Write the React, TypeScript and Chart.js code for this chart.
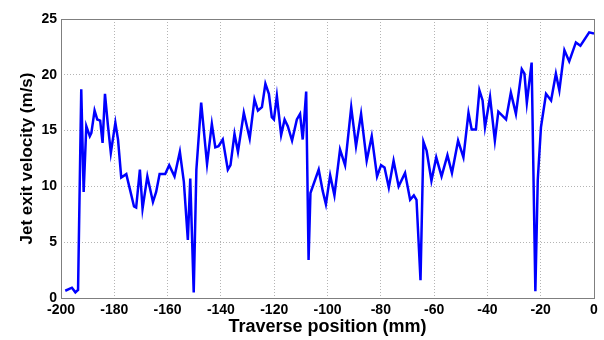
import React, { useEffect, useRef } from "react";
import { Chart, registerables } from "chart.js";

Chart.register(...registerables);

const positions: number[] = [
  -198.4, -195.9, -194.6, -193.6, -192.4, -191.5, -190.5, -189.2, -188.6, -187.4,
  -186.4, -185.3, -184.4, -183.5, -182.4, -181.3, -179.6, -178.6, -177.4, -175.5,
  -174.2, -172.6, -171.8, -170.4, -169.4, -167.6, -165.5, -164.3, -163.0, -160.9,
  -159.4, -157.4, -155.4, -153.9, -152.4, -151.5, -150.2, -149.2, -147.4, -145.2,
  -143.4, -142.1, -140.9, -139.3, -137.4, -136.4, -134.9, -133.6, -131.4, -129.2,
  -127.4, -126.1, -124.6, -123.3, -122.0, -120.9, -120.1, -119.0, -117.4, -116.1,
  -114.9, -113.3, -111.5, -110.3, -109.3, -108.0, -107.1, -106.4, -103.3, -101.8,
  -100.6, -99.0, -97.4, -95.3, -93.4, -91.1, -89.3, -87.4, -85.3, -83.4,
  -81.4, -79.9, -78.6, -77.0, -75.2, -73.3, -70.9, -69.0, -67.6, -66.6,
  -65.1, -64.0, -62.8, -61.0, -59.2, -57.2, -55.0, -53.3, -51.0, -49.0,
  -47.1, -45.9, -44.3, -43.0, -41.8, -40.9, -39.0, -37.2, -35.9, -33.0,
  -31.2, -29.3, -27.1, -26.1, -25.2, -23.4, -22.0, -21.1, -19.9, -18.0,
  -16.1, -14.3, -13.0, -11.1, -9.3, -6.8, -5.1, -1.8, 0,
];

const velocities: number[] = [
  0.65, 0.92, 0.51, 0.72, 18.7, 9.5, 15.4, 14.5, 14.8, 16.8,
  16.0, 15.9, 13.9, 18.3, 15.5, 13.0, 15.7, 14.2, 10.8, 11.1,
  9.8, 8.2, 8.1, 11.5, 8.0, 10.9, 8.6, 9.5, 11.1, 11.1,
  11.9, 10.9, 13.1, 10.4, 5.2, 10.7, 0.5, 11.5, 17.5, 12.0,
  15.6, 13.5, 13.6, 14.2, 11.5, 11.9, 14.7, 13.1, 16.6, 14.3,
  17.8, 16.8, 17.1, 19.2, 18.3, 16.2, 16.0, 18.1, 14.6, 16.0,
  15.4, 14.1, 16.0, 16.5, 14.2, 18.5, 3.4, 9.4, 11.5, 9.6,
  8.4, 11.0, 9.2, 13.3, 11.9, 17.1, 13.6, 16.5, 12.3, 14.5,
  10.9, 11.9, 11.7, 9.9, 12.3, 10.0, 11.2, 8.8, 9.2, 8.8,
  1.6, 14.0, 13.2, 10.5, 12.6, 10.9, 12.8, 11.2, 14.1, 12.6,
  16.6, 15.1, 15.1, 18.6, 17.7, 15.3, 18.0, 14.1, 16.7, 16.0,
  18.4, 16.5, 20.5, 20.1, 17.5, 21.1, 0.6, 10.6, 15.3, 18.3,
  17.7, 20.1, 18.6, 22.2, 21.2, 22.9, 22.6, 23.8, 23.7,
];

const xTicks: number[] = [-200, -180, -160, -140, -120, -100, -80, -60, -40, -20, 0];
const yTicks: number[] = [0, 5, 10, 15, 20, 25];

const FONT = "'Liberation Sans', Arial, sans-serif";

const boxPlugin = {
  id: "boxPlugin",
  afterDraw(chart: any) {
    const { ctx, chartArea } = chart;
    ctx.save();
    ctx.strokeStyle = "#7f7f7f";
    ctx.lineWidth = 1;
    ctx.strokeRect(
      Math.round(chartArea.left) + 0.5,
      Math.round(chartArea.top) + 0.5,
      Math.round(chartArea.right - chartArea.left),
      Math.round(chartArea.bottom - chartArea.top)
    );
    ctx.restore();
  },
};

export default function App() {
  const ref = useRef<HTMLCanvasElement | null>(null);

  useEffect(() => {
    if (!ref.current) return;
    const data = positions.map((x, i) => ({ x, y: velocities[i] }));
    const chart = new Chart(ref.current, {
      type: "line",
      data: {
        datasets: [
          {
            data,
            borderColor: "#0000ff",
            borderWidth: 2.5,
            pointRadius: 0,
            tension: 0,
            fill: false,
          },
        ],
      },
      options: {
        animation: false,
        responsive: false,
        maintainAspectRatio: false,
        layout: { padding: { top: 19, right: 10, left: 0, bottom: 0 } },
        plugins: { legend: { display: false }, tooltip: { enabled: false } },
        scales: {
          x: {
            type: "linear",
            min: -200,
            max: 0,
            afterBuildTicks: (scale: any) => {
              scale.ticks = xTicks.map((v) => ({ value: v }));
            },
            afterFit: (scale: any) => {
              scale.height = 42;
            },
            grid: {
              color: "#b4b4b4",
              lineWidth: 1,
              drawTicks: false,
            },
            border: { display: false, dash: [1, 2] },
            ticks: {
              color: "#000",
              font: { family: FONT, size: 14, weight: "bold" },
              padding: 4,
              maxRotation: 0,
              autoSkip: false,
            },
            title: {
              display: true,
              text: "Traverse position (mm)",
              color: "#000",
              font: { family: FONT, size: 18, weight: "bold", lineHeight: 1.1 },
              padding: { top: 0, bottom: 3 },
            },
          },
          y: {
            type: "linear",
            min: 0,
            max: 25,
            afterBuildTicks: (scale: any) => {
              scale.ticks = yTicks.map((v) => ({ value: v }));
            },
            afterFit: (scale: any) => {
              scale.width = 61;
            },
            grid: {
              color: "#b4b4b4",
              lineWidth: 1,
              drawTicks: false,
            },
            border: { display: false, dash: [1, 2] },
            ticks: {
              color: "#000",
              font: { family: FONT, size: 14, weight: "bold" },
              padding: 4,
              autoSkip: false,
            },
            title: {
              display: true,
              text: "Jet exit velocity (m/s)",
              color: "#000",
              font: { family: FONT, size: 17, weight: "bold" },
              padding: { top: 17, bottom: 0 },
            },
          },
        },
      },
      plugins: [boxPlugin],
    });
    return () => chart.destroy();
  }, []);

  return (
    <div style={{ position: "fixed", left: 0, top: 0, width: 604, height: 340, background: "#fff" }}>
      <canvas ref={ref} width={604} height={340} style={{ width: 604, height: 340, display: "block" }} />
    </div>
  );
}
